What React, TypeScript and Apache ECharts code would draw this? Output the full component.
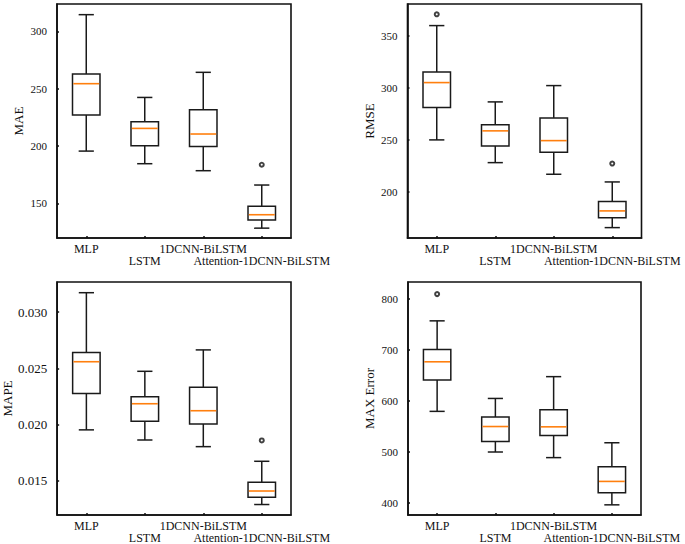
import React, { useEffect, useRef } from "react";
import * as echarts from "echarts";

const categories = ["MLP", "LSTM", "1DCNN-BiLSTM", "Attention-1DCNN-BiLSTM"];

// [low whisker, Q1, median, Q3, high whisker]
const maeStats = [
  [195.5, 227, 254.3, 262.7, 314.5],
  [184.5, 200.2, 215.3, 221.1, 242.3],
  [178.4, 199.4, 210.4, 231.6, 264.2],
  [128.3, 135.3, 140, 147.5, 165.9],
];
const maeOutliers = [[3, 183.6]];

const rmseStats = [
  [249.9, 281, 305.1, 315.4, 360],
  [228, 244.1, 258.6, 264.4, 286.5],
  [216.8, 238, 249.2, 271.1, 302.2],
  [165.4, 174.8, 181.5, 190.5, 209.4],
];
const rmseOutliers = [[0, 370.9], [3, 227.1]];

const mapeStats = [
  [0.01954, 0.02277, 0.02559, 0.02641, 0.03172],
  [0.01864, 0.02031, 0.02186, 0.02247, 0.02474],
  [0.01805, 0.02007, 0.02124, 0.02333, 0.02664],
  [0.01291, 0.01356, 0.01411, 0.01488, 0.01675],
];
const mapeOutliers = [[3, 0.0186]];

const maxStats = [
  [579, 640.5, 676.1, 700, 756.3],
  [499.4, 520, 549.3, 568, 604.3],
  [488.4, 531.8, 548.7, 582.3, 647],
  [395.9, 419.8, 441.8, 470.3, 517.5],
];
const maxOutliers = [[0, 808.7]];

const FONT = "Liberation Serif";

type Panel = {
  name: string;
  stats: number[][];
  outliers: number[][];
  min: number;
  max: number;
  grid: { left: number; top: number; width: number; height: number };
  nameGap: number;
  tickFont: number;
  decimals: number;
};

const panels: Panel[] = [
  { name: "MAE", stats: maeStats, outliers: maeOutliers, min: 119.7, max: 323.8,
    grid: { left: 57, top: 4, width: 234, height: 234 }, nameGap: 32, tickFont: 11, decimals: 0 },
  { name: "RMSE", stats: rmseStats, outliers: rmseOutliers, min: 155.4, max: 380.8,
    grid: { left: 407.5, top: 4, width: 234, height: 234 }, nameGap: 32, tickFont: 11, decimals: 0 },
  { name: "MAPE", stats: mapeStats, outliers: mapeOutliers, min: 0.01198, max: 0.03267,
    grid: { left: 57, top: 282, width: 234, height: 235 }, nameGap: 42, tickFont: 13, decimals: 3 },
  { name: "MAX Error", stats: maxStats, outliers: maxOutliers, min: 376, max: 832.4,
    grid: { left: 408, top: 282, width: 233, height: 235 }, nameGap: 32, tickFont: 11, decimals: 0 },
];

function renderBox(params: any, api: any) {
  const idx = api.value(0);
  const low = api.coord([idx, api.value(1)]);
  const q1 = api.coord([idx, api.value(2)]);
  const med = api.coord([idx, api.value(3)]);
  const q3 = api.coord([idx, api.value(4)]);
  const high = api.coord([idx, api.value(5)]);
  const band = api.size([1, 0])[0];
  const bw = band * 0.47;
  const cw = band * 0.26;
  const cx = low[0];
  const stroke = { stroke: "#1a1a1a", lineWidth: 1.5, fill: "none" };
  return {
    type: "group",
    children: [
      { type: "line", shape: { x1: cx, y1: low[1], x2: cx, y2: q1[1] }, style: stroke },
      { type: "line", shape: { x1: cx, y1: q3[1], x2: cx, y2: high[1] }, style: stroke },
      { type: "line", shape: { x1: cx - cw / 2, y1: low[1], x2: cx + cw / 2, y2: low[1] }, style: stroke },
      { type: "line", shape: { x1: cx - cw / 2, y1: high[1], x2: cx + cw / 2, y2: high[1] }, style: stroke },
      { type: "rect", shape: { x: cx - bw / 2, y: q3[1], width: bw, height: q1[1] - q3[1] },
        style: { stroke: "#1a1a1a", lineWidth: 1.5, fill: "#ffffff" } },
      { type: "line", shape: { x1: cx - bw / 2 + 0.8, y1: med[1], x2: cx + bw / 2 - 0.8, y2: med[1] },
        style: { stroke: "#ff7f0e", lineWidth: 1.6 } },
    ],
  };
}

export default function App() {
  const ref = useRef<HTMLDivElement>(null);
  useEffect(() => {
    if (!ref.current) return;
    const chart = echarts.init(ref.current, null, { renderer: "svg" });
    const grid: any[] = [];
    const xAxis: any[] = [];
    const yAxis: any[] = [];
    const series: any[] = [];
    panels.forEach((p, i) => {
      grid.push({ ...p.grid, show: true, borderColor: "#111", borderWidth: 1.6, backgroundColor: "transparent" });
      xAxis.push({
        type: "category", gridIndex: i, data: categories,
        axisLine: { show: true, lineStyle: { color: "#111", width: 1.6 } },
        axisTick: { show: true, inside: true, alignWithLabel: true, length: 2, lineStyle: { color: "#111", width: 1.5 } },
        axisLabel: {
          interval: 0, margin: 5, color: "#111", fontFamily: FONT, fontSize: 12, lineHeight: 12,
          formatter: (v: string, idx: number) => (idx % 2 === 1 ? "\n" + v : v),
        },
        splitLine: { show: false },
      });
      yAxis.push({
        type: "value", gridIndex: i, min: p.min, max: p.max, splitNumber: 5, scale: true,
        name: p.name, nameLocation: "middle", nameRotate: 90, nameGap: p.nameGap,
        nameTextStyle: { color: "#111", fontFamily: FONT, fontSize: 13 },
        axisLine: { show: true, lineStyle: { color: "#111", width: 1.6 } },
        axisTick: { show: true, inside: true, length: 2, lineStyle: { color: "#111", width: 1.5 } },
        axisLabel: {
          showMinLabel: false, showMaxLabel: false, margin: 10, color: "#111",
          fontFamily: FONT, fontSize: p.tickFont,
          formatter: (v: number) => v.toFixed(p.decimals),
        },
        splitLine: { show: false },
      });
      series.push({
        type: "custom", xAxisIndex: i, yAxisIndex: i, renderItem: renderBox,
        encode: { x: 0, y: [1, 2, 3, 4, 5] },
        data: p.stats.map((s, k) => [k, ...s]),
        z: 3,
      });
      series.push({
        type: "scatter", xAxisIndex: i, yAxisIndex: i, data: p.outliers,
        symbol: "emptyCircle", symbolSize: 4,
        itemStyle: { color: "#111", borderColor: "#111", borderWidth: 1.2 },
        z: 4,
      });
    });
    chart.setOption({ animation: false, backgroundColor: "#fff", grid, xAxis, yAxis, series });
    return () => chart.dispose();
  }, []);
  return (
    <div
      ref={ref}
      style={{ position: "fixed", left: 0, top: 0, width: 685, height: 544, background: "#fff" }}
    />
  );
}
